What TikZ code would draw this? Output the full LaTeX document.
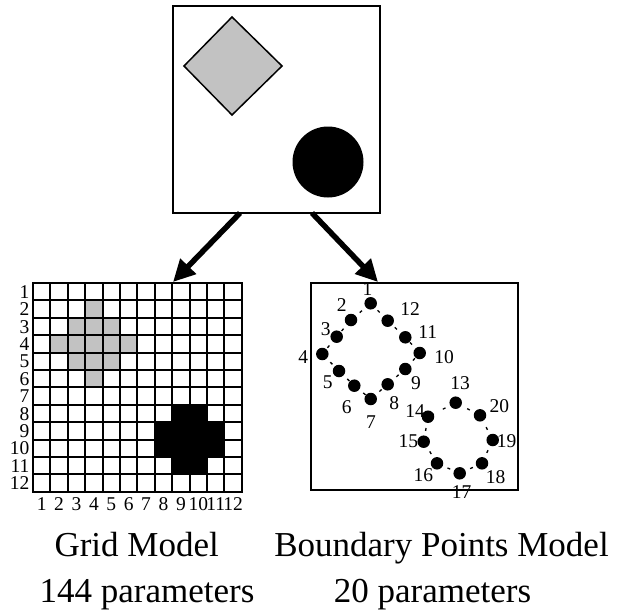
\documentclass[tikz,border=0pt]{standalone}
\usepackage{fontspec}
\setmainfont{Liberation Serif}
\usetikzlibrary{arrows.meta}
\begin{document}
\begin{tikzpicture}[x=1pt,y=-1pt,
  frame/.style={draw,line width=2.2pt,inner sep=0pt,outer sep=0pt,anchor=north west},
  num/.style={font=\fontsize{19.5}{20}\selectfont,inner sep=0pt},
  captext/.style={font=\fontsize{35}{36}\selectfont,inner sep=0pt,anchor=base},
  dot/.style={circle,fill=black,minimum size=12.5pt,inner sep=0pt},
  bigarrow/.style={line width=5.5pt,-{Triangle[length=22pt,width=21pt]}},
  shade/.style={fill=black!24},
  gridline/.style={line width=2.1pt},
  link/.style={line width=1.3pt,dash pattern=on 3pt off 10pt,dash phase=8pt}]
\useasboundingbox (0,0) rectangle (620,615);

% top picture
\node[frame,minimum width=207pt,minimum height=207pt] (top) at (173,6) {};
\draw[shade,line width=1.5pt] (232,17) -- (282,66) -- (232,115) -- (184,66) -- cycle;
\fill (328,162) circle (35.5pt);

% grid model
\foreach \c/\r in {4/2,3/3,4/3,5/3,2/4,3/4,4/4,5/4,6/4,3/5,4/5,5/5,4/6}
  \fill[shade] ({33+(\c-1)*17.4},{283+(\r-1)*17.4}) rectangle ++(17.4,17.4);
\foreach \c/\r in {9/8,10/8,8/9,9/9,10/9,11/9,8/10,9/10,10/10,11/10,9/11,10/11}
  \fill ({33+(\c-1)*17.4},{283+(\r-1)*17.4}) rectangle ++(17.4,17.4);
\foreach \i in {1,...,11} {
  \draw[gridline] ({33+\i*17.4},283) -- ++(0,208.8);
  \draw[gridline] (33,{283+\i*17.4}) -- ++(208.8,0);
}
\node[frame,minimum width=208.8pt,minimum height=208.8pt] (grid) at (33,283) {};
\foreach \i in {1,...,12} {
  \node[num,anchor=base east] at (29.5,{283+(\i-0.5)*17.4+6.6}) {\i};
  \node[num,anchor=base] at ({33+(\i-0.5)*17.4},510.5) {\i};
}

% boundary points model
\node[frame,minimum width=207pt,minimum height=207pt] (bbox) at (311,283) {};
\foreach \n/\x/\y in {1/370.7/303.3,2/351/320,3/336.7/336.7,4/322.3/354,5/339/371,
  6/354.3/385.7,7/370.7/399,8/387.7/384.3,9/405.3/369,10/419.7/353,11/405.3/337.3,
  12/387.7/320.7,13/455.7/402.7,14/428/416.7,15/423.7/441.7,16/437/463.3,
  17/459.7/473.3,18/482/463.3,19/492.7/440,20/480/415.3}
  \node[dot] (p\n) at (\x,\y) {};
\foreach \a/\b in {1/2,2/3,3/4,4/5,5/6,6/7,7/8,8/9,9/10,10/11,11/12,12/1,
  13/14,14/15,15/16,16/17,17/18,18/19,19/20,20/13}
  \draw[link] (p\a) -- (p\b);
\foreach \n/\x/\y in {1/367.5/289,2/341.7/305,3/325.7/329.3,4/303.3/357.3,5/327.7/382.7,
  6/346.7/406.7,7/371/421.7,8/394.3/402.7,9/416/383.3,10/444/357.3,11/427.7/331.7,
  12/410/309.3,13/460/383.3,14/415/410.7,15/408.3/441,16/423.3/475,17/461.7/491.7,
  18/495.7/477.3,19/506.7/440.7,20/499.3/406}
  \node[num] (l\n) at (\x,\y) {\n};

% arrows
\coordinate (ls) at (240,213);
\coordinate (lt) at (173,282);
\coordinate (rs) at (312,213);
\coordinate (rt) at (378,282);
\draw[bigarrow] (ls) -- (lt);
\draw[bigarrow] (rs) -- (rt);

% captions
\node[captext] (c1) at (136.7,556) {Grid Model};
\node[captext] (c2) at (147,602) {144 parameters};
\node[captext] (c3) at (441.5,556) {Boundary Points Model};
\node[captext] (c4) at (432.5,602) {20 parameters};
\end{tikzpicture}
\end{document}
